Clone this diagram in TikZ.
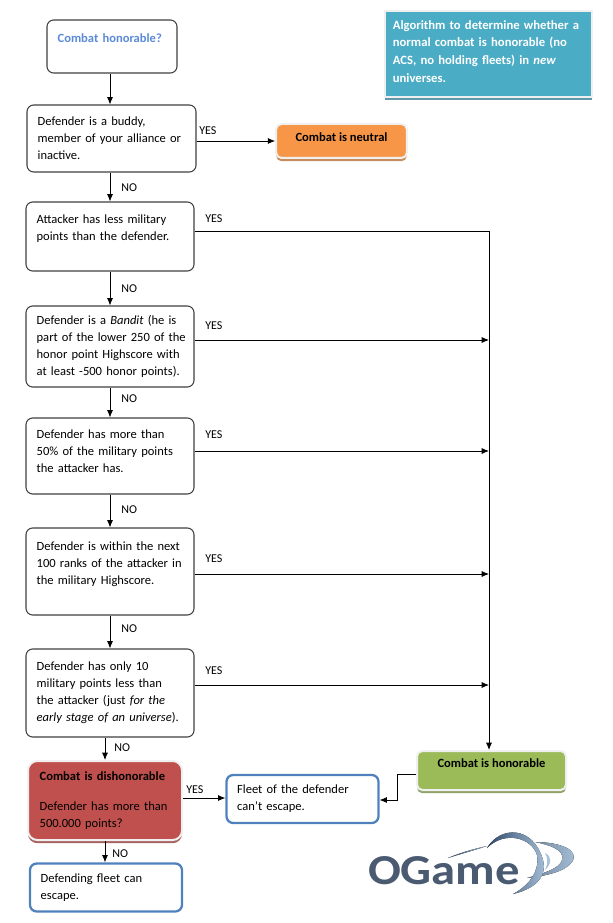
\documentclass[tikz,border=0pt]{standalone}
\usepackage{fontspec}
\setmainfont{Carlito}
\usetikzlibrary{arrows.meta,shadows}
\definecolor{notecol}{HTML}{4BACC6}
\definecolor{neutralcol}{HTML}{F79646}
\definecolor{honorcol}{HTML}{9BBB59}
\definecolor{dishoncol}{HTML}{C0504D}
\definecolor{fleetcol}{HTML}{4F81BD}
\definecolor{titlecol}{HTML}{5B8BD8}
\definecolor{logocol}{HTML}{4A5A70}
\definecolor{arccol}{HTML}{2F4A6B}
\definecolor{arclight}{HTML}{A9C3DC}
\tikzset{
  flow/.style={-{Latex[length=5.5pt,width=4.5pt]},black,line width=.6pt},
  lab/.style={font=\fontsize{9}{10}\selectfont,inner sep=0pt,anchor=west},
  qbox/.style={draw=black!75,fill=white,rounded corners=5pt,line width=.8pt,align=left,inner sep=0pt,inner xsep=8pt,font=\fontsize{9.4}{12.75}\selectfont},
  endbox/.style={qbox,draw=fleetcol,line width=1.7pt},
  resbox/.style={draw=black!6,fill=#1,rounded corners=4pt,line width=1.5pt,align=center,font=\bfseries\fontsize{9.4}{12.75}\selectfont,inner sep=0pt,
    general shadow={fill=#1!60!gray,shadow xshift=0pt,shadow yshift=-2.4pt}},
}
\begin{document}
\begin{tikzpicture}[x=.75pt,y=-.75pt]
  \useasboundingbox (0,0) rectangle (612,923);
  % question boxes
  \node[qbox,text width=81.5pt,minimum height=39.75pt,text=titlecol] (start) at (112,46.5) {\textbf{Combat honorable?}\\ \mbox{}};
  \node[qbox,text width=110.75pt,minimum height=50.25pt] (buddy) at (111.5,138.5) {Defender is a buddy,\\member of your alliance or\\inactive.};
  \node[qbox,text width=110pt,minimum height=51.75pt] (points) at (110,236.5) {Attacker has less military\\points than the defender.\\ \mbox{}};
  \node[qbox,text width=110pt,minimum height=60.75pt] (bandit) at (110,346.5) {Defender is a \textit{Bandit} (he is\\\mbox{part of the lower 250 of the}\\honor point Highscore with\\at least -500 honor points).};
  \node[qbox,text width=110pt,minimum height=57pt] (half) at (110,456) {Defender has more than\\50\% of the military points\\the attacker has.\\[-6pt]\mbox{}};
  \node[qbox,text width=110pt,minimum height=65.25pt] (ranks) at (110,571.5) {Defender is within the next\\100 ranks of the attacker in\\the military Highscore.\\ \mbox{}};
  \node[qbox,text width=110pt,minimum height=66pt] (early) at (110,693) {Defender has only 10\\military points less than\\the attacker (just \textit{for the}\\\textit{early stage of an universe}).};
  % result boxes
  \node[resbox=neutralcol,minimum width=98pt,minimum height=25.5pt] (neutral) at (341.5,141) {Combat is neutral\\[-7pt]\mbox{}};
  \node[resbox=honorcol,minimum width=111.75pt,minimum height=29.25pt] (honor) at (491.5,770.5) {Combat is honorable\\[-1.5pt]\mbox{}};
  \node[resbox=dishoncol,text width=98pt,minimum width=115.5pt,minimum height=59.25pt,align=left,font=\fontsize{9.4}{12.75}\selectfont,rounded corners=7pt] (dishon) at (105,800.5) {\textbf{Combat is dishonorable}\\[9.75pt]Defender has more than\\500.000 points?};
  \node[endbox,text width=98pt,minimum height=36pt] (fleet) at (302.5,799) {Fleet of the defender\\can’t escape.};
  \node[endbox,text width=98pt,minimum height=36pt] (escape) at (106,887.5) {Defending fleet can\\escape.};
  \node[resbox=notecol,rounded corners=0pt,text width=143.5pt,minimum width=155.25pt,minimum height=64.5pt,align=left,text=white,font=\bfseries\fontsize{9.5}{13.2}\selectfont] (note) at (488.5,54) {Algorithm to determine whether a\\normal combat is honorable (no\\ACS, no holding fleets) in \textit{new}\\universes.\\[-9pt]\mbox{}};
  % connectors
  \coordinate (xa) at (110,0);
  \coordinate (xb) at (105,0);
  \coordinate (ya) at (0,141);
  \coordinate (yb) at (0,798);
  \coordinate (t1) at (489,231);
  \coordinate (t2) at (489,340);
  \coordinate (t3) at (489,451);
  \coordinate (t4) at (489,574);
  \coordinate (t5) at (489,685);
  \coordinate (h1) at (397,774);
  \coordinate (h2) at (397,800);
  \draw[flow] (start.south-|xa) -- (buddy.north-|xa);
  \draw[flow] (buddy.south-|xa) -- (points.north-|xa);
  \draw[flow] (points.south-|xa) -- (bandit.north-|xa);
  \draw[flow] (bandit.south-|xa) -- (half.north-|xa);
  \draw[flow] (half.south-|xa) -- (ranks.north-|xa);
  \draw[flow] (ranks.south-|xa) -- (early.north-|xa);
  \draw[flow] (early.south-|xb) -- (dishon.north-|xb);
  \draw[flow] (dishon.south-|xb) -- (escape.north-|xb);
  \draw[flow] (buddy.east|-ya) -- (neutral.west|-ya);
  \draw[line width=.6pt] (points.east|-t1) -- (t1);
  \draw[flow] (bandit.east|-t2) -- (t2);
  \draw[flow] (half.east|-t3) -- (t3);
  \draw[flow] (ranks.east|-t4) -- (t4);
  \draw[flow] (early.east|-t5) -- (t5);
  \draw[flow] (t1) -- (honor.north-|t1);
  \draw[flow] (dishon.east|-yb) -- (fleet.west|-yb);
  \draw[flow] (honor.west|-h1) -- (h1) -- (h2) -- (fleet.east|-h2);
  % edge labels
  \foreach \px/\py/\txt [count=\i] in {199/131/YES,121/188/NO,205/219/YES,121/289/NO,205/326/YES,121/399/NO,205/435/YES,121/510/NO,205/559/YES,121/629/NO,205/671/YES,114/748/NO,186/790/YES,112/854/NO}
    \node[lab] (lab\i) at (\px,\py) {\txt};
  % logo
  \fill[left color=arccol,right color=arclight] (448,858) .. controls (465,851) and (478,848) .. (487,846) .. controls (472,851) and (460,854) .. (448,858) -- cycle;
  \fill[left color=arccol!70,right color=arclight] (535,842) .. controls (560,842) and (580,850) .. (572,862) .. controls (565,872) and (545,876) .. (527,878) .. controls (545,873) and (560,868) .. (562,860) .. controls (565,850) and (550,845) .. (535,842) -- cycle;
  \fill[arclight] (545,853) .. controls (552,856) and (552,864) .. (545,870) .. controls (548,864) and (548,858) .. (545,853) -- cycle;
  \fill[left color=arccol,right color=arclight] (487,848) .. controls (500,826) and (533,825) .. (543,860) .. controls (548,880) and (530,890) .. (513,894) .. controls (530,885) and (540,870) .. (537,855) .. controls (532,838) and (505,830) .. (487,848) -- cycle;
  \node[font=\bfseries\fontsize{32}{32}\selectfont,text=logocol,inner sep=0pt] (logo) at (444,871) {\scalebox{1.14}[1]{OGame}};
\end{tikzpicture}
\end{document}
